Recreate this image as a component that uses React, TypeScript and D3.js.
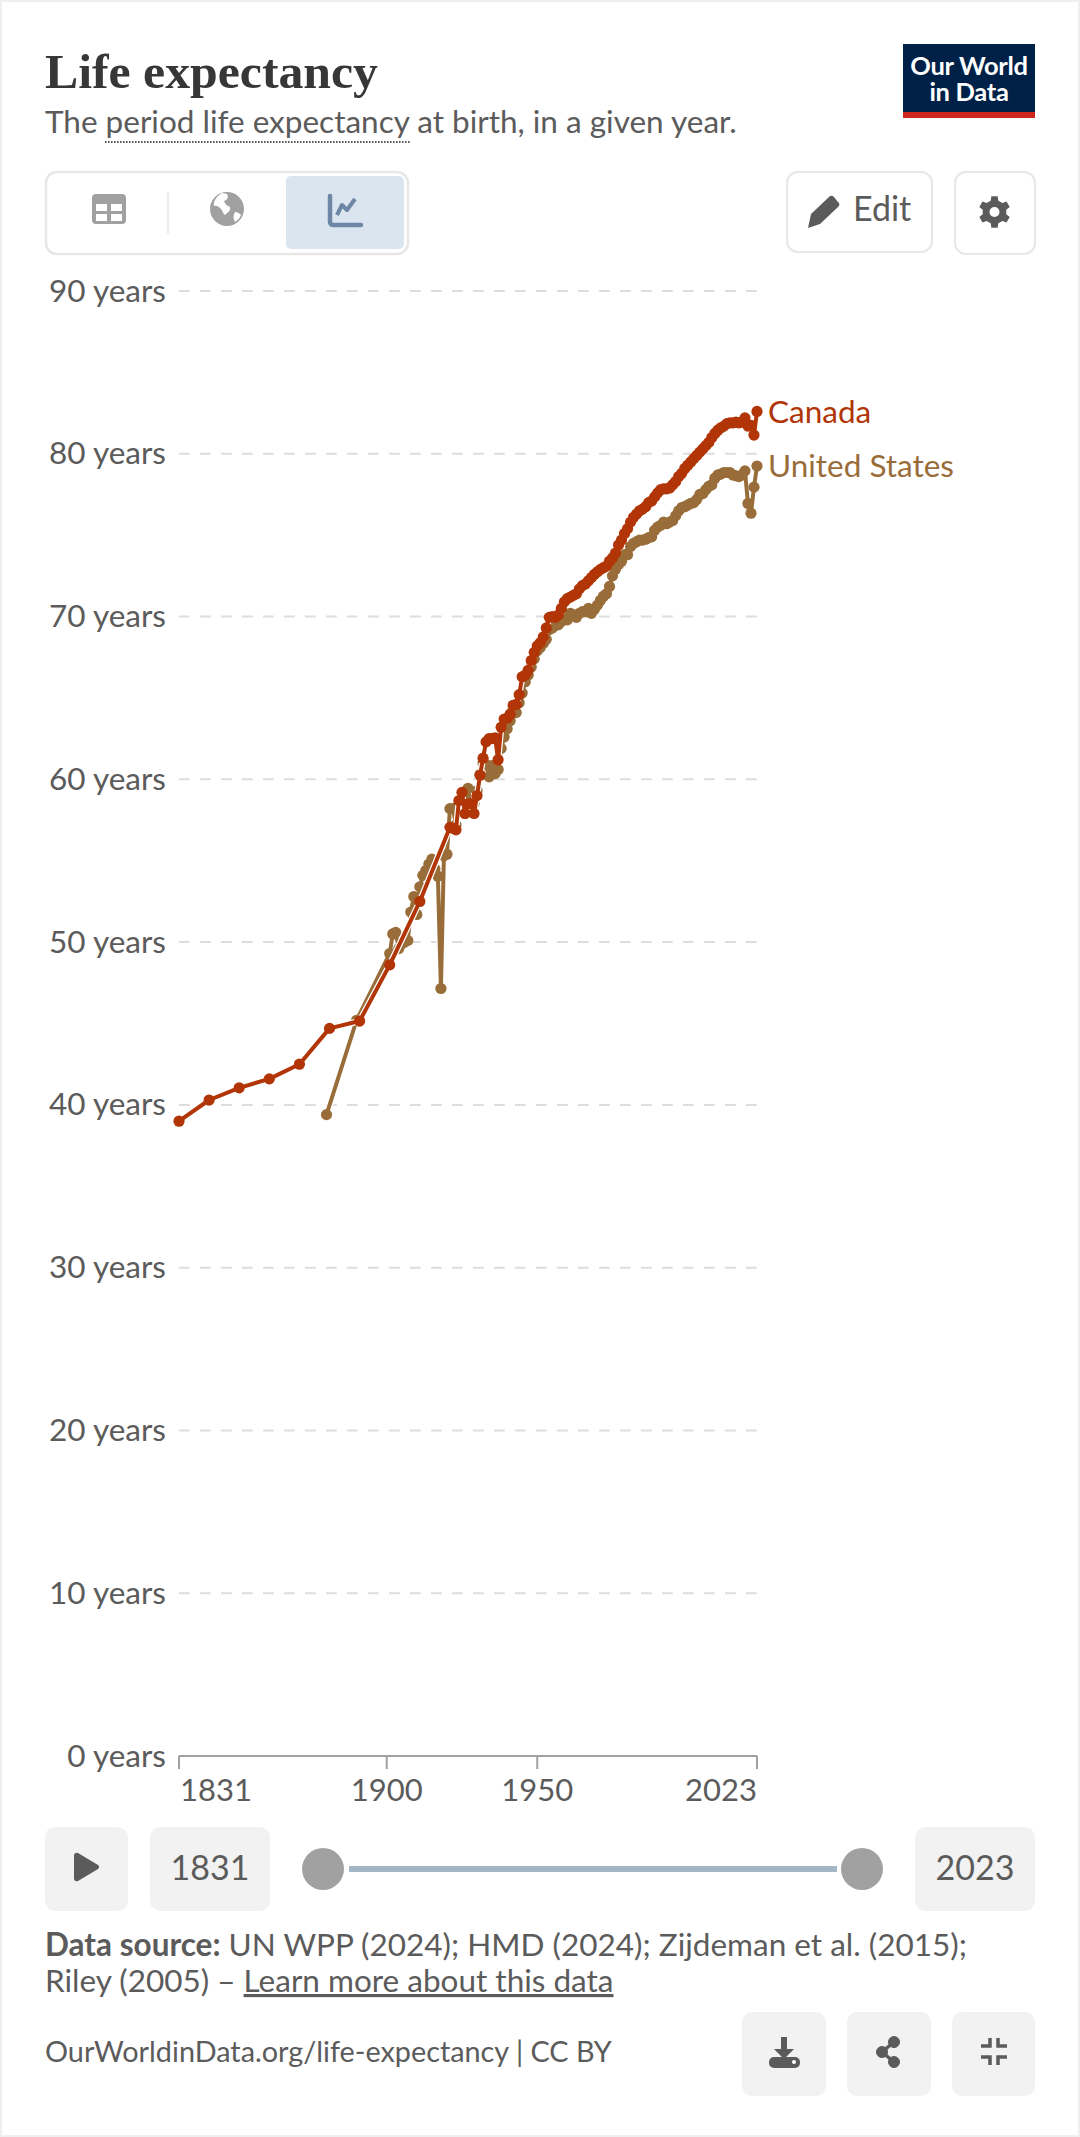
import React from "react";
import * as d3 from "d3";

const W = 1080;
const H = 2137;

const yTicks = [0, 10, 20, 30, 40, 50, 60, 70, 80, 90];
const xTicks = [1831, 1900, 1950, 2023];

const canadaEarlyYears = [1831, 1841, 1851, 1861, 1871, 1881, 1891, 1901, 1911];
const canadaEarlyValues = [39.0, 40.3, 41.05, 41.6, 42.5, 44.7, 45.15, 48.6, 52.5];
const canadaAnnualStart = 1921;
const canadaAnnualValues = [
  57.05, 57.0, 56.9, 58.7, 59.2, 57.9, 58.5, 58.5, 57.9, 59.0,
  60.25, 61.3, 62.3, 62.5, 62.5, 62.55, 61.2, 63.2, 63.7, 63.75,
  64.0, 64.55, 64.6, 65.2, 66.3, 66.4, 66.7, 67.3, 67.8, 68.2,
  68.4, 68.75, 69.3, 69.95, 70.0, 69.95, 70.1, 70.5, 70.9, 71.1,
  71.2, 71.3, 71.4, 71.7, 71.9, 72.0, 72.2, 72.4, 72.6, 72.75,
  72.9, 73.0, 73.1, 73.4, 73.6, 73.9, 74.4, 74.7, 75.1, 75.4,
  75.8, 76.1, 76.3, 76.5, 76.6, 76.75, 77.0, 77.1, 77.35, 77.6,
  77.8, 77.85, 77.85, 77.9, 78.1, 78.3, 78.6, 78.8, 79.1, 79.3,
  79.5, 79.7, 79.9, 80.1, 80.3, 80.5, 80.7, 81.0, 81.25, 81.45,
  81.6, 81.7, 81.85, 81.9, 81.9, 81.95, 81.9, 81.95, 82.2, 81.7,
  81.75, 81.15, 82.6,
];

const usEarlyYears = [1880, 1890];
const usEarlyValues = [39.4, 45.2];
const usAnnualStart = 1901;
const usAnnualValues = [
  49.3, 50.5, 50.6, 49.6, 49.9, 50.0, 50.1, 51.85, 52.8, 51.7,
  53.4, 54.1, 54.4, 54.8, 55.1, 54.5, 54.05, 47.15, 55.3, 55.4,
  58.2, 58.2, 57.2, 58.5, 58.6, 57.9, 59.45, 58.2, 58.5, 59.3,
  60.3, 61.0, 60.9, 60.15, 60.85, 60.35, 60.6, 61.9, 62.6, 63.1,
  63.6, 64.3, 64.1, 64.7, 65.3, 66.0, 66.4, 66.9, 67.4, 67.9,
  68.1, 68.35, 68.6, 69.2, 69.3, 69.45, 69.5, 69.7, 69.85, 69.8,
  70.2, 70.1, 69.95, 70.2, 70.3, 70.3, 70.5, 70.2, 70.45, 70.7,
  71.0, 71.25, 71.4, 71.85, 72.5, 72.9, 73.2, 73.4, 73.8, 73.8,
  74.3, 74.5, 74.6, 74.7, 74.7, 74.75, 74.85, 74.9, 75.3, 75.5,
  75.6, 75.8, 75.7, 75.8, 75.9, 76.2, 76.5, 76.7, 76.75, 76.85,
  76.95, 77.0, 77.2, 77.5, 77.55, 77.8, 78.0, 78.1, 78.5, 78.7,
  78.75, 78.85, 78.85, 78.85, 78.7, 78.65, 78.6, 78.7, 78.95, 76.95,
  76.35, 77.95, 79.25,
];

type Pt = [number, number];
const zipSeries = (yrs: number[], vals: number[], start: number, annual: number[]): Pt[] => [
  ...yrs.map((y, i) => [y, vals[i]] as Pt),
  ...annual.map((v, i) => [start + i, v] as Pt),
];
const canada = zipSeries(canadaEarlyYears, canadaEarlyValues, canadaAnnualStart, canadaAnnualValues);
const unitedStates = zipSeries(usEarlyYears, usEarlyValues, usAnnualStart, usAnnualValues);

const RED = "#B13507";
const BROWN = "#996D39";
const FONT = "Lato, sans-serif";
const TXT = "#5b5b5b";

const x = d3.scaleLinear().domain([1831, 2023]).range([179, 757]);
const y = d3.scaleLinear().domain([0, 90]).range([1756, 291]);
const lineGen = d3.line<Pt>().x((d) => x(d[0])).y((d) => y(d[1]));

function Series({ data, color }: { data: Pt[]; color: string }) {
  const d = lineGen(data) || "";
  return (
    <g>
      <path d={d} fill="none" stroke="#fff" strokeWidth={6.5} strokeLinejoin="round" />
      <path d={d} fill="none" stroke={color} strokeWidth={4} strokeLinejoin="round" strokeLinecap="round" />
      {data.map((p) => (
        <circle key={p[0]} cx={x(p[0])} cy={y(p[1])} r={5.6} fill={color} />
      ))}
    </g>
  );
}

const Btn = ({ x: bx, y: by, w, h }: { x: number; y: number; w: number; h: number }) => (
  <rect x={bx} y={by} width={w} height={h} rx={10} fill="#f2f2f2" />
);

const OutBtn = ({ x: bx, y: by, w, h }: { x: number; y: number; w: number; h: number }) => (
  <rect x={bx} y={by} width={w} height={h} rx={11} fill="#fff" stroke="#e7e7e7" strokeWidth={2} />
);

function gearPath(cx: number, cy: number, rOut: number, rIn: number, teeth: number) {
  const pts: Pt[] = [];
  for (let i = 0; i < teeth; i++) {
    const a = (i / teeth) * 2 * Math.PI - Math.PI / 2;
    const s = Math.PI / teeth;
    [[-0.62, rIn], [-0.38, rOut], [0.38, rOut], [0.62, rIn]].forEach(([o, r]) => {
      const t = a + o * s * 1.0;
      pts.push([cx + r * Math.cos(t), cy + r * Math.sin(t)]);
    });
  }
  return d3.line()(pts) + "Z";
}

export default function App() {
  return (
    <svg
      width={W}
      height={H}
      viewBox={`0 0 ${W} ${H}`}
      style={{ position: "absolute", left: 0, top: 0, display: "block", background: "#fff" }}
      fontFamily={FONT}
    >
      <rect x={1} y={1} width={W - 2} height={H - 2} fill="#fff" stroke="#efefef" strokeWidth={2} />

      {/* header */}
      <text x={45} y={88} fontFamily="'Liberation Serif', serif" fontWeight={700} fontSize={48} fill="#373737" textLength={333} lengthAdjust="spacingAndGlyphs">
        Life expectancy
      </text>
      <text x={45} y={133} fontSize={31.5} fill={TXT}>
        The period life expectancy at birth, in a given year.
      </text>
      <line x1={105} x2={410} y1={142} y2={142} stroke="#5b5b5b" strokeWidth={2} strokeDasharray="1.6,1.4" />

      {/* logo */}
      <rect x={903} y={44} width={132} height={74} fill="#002147" />
      <rect x={903} y={112} width={132} height={6} fill="#ce261e" />
      <text x={969} y={75} textAnchor="middle" fontSize={25.5} fontWeight={700} fill="#fff" letterSpacing={-0.3}>Our World</text>
      <text x={969} y={101} textAnchor="middle" fontSize={25.5} fontWeight={700} fill="#fff" letterSpacing={-0.3}>in Data</text>

      {/* tabs */}
      <rect x={46} y={172} width={362} height={82} rx={11} fill="#fff" stroke="#e7e7e7" strokeWidth={2.5} />
      <line x1={168} x2={168} y1={192} y2={234} stroke="#e7e7e7" strokeWidth={1.5} />
      <rect x={286} y={176} width={118} height={73} rx={5} fill="#dbe5f0" />
      <g fill="#a1a1a1">
        <path d="M96 194h26a4 4 0 0 1 4 4v22a4 4 0 0 1-4 4h-26a4 4 0 0 1-4-4v-22a4 4 0 0 1 4-4Z" />
      </g>
      <g fill="#fff">
        <rect x={96} y={204} width={11} height={7} />
        <rect x={111} y={204} width={11} height={7} />
        <rect x={96} y={214} width={11} height={7} />
        <rect x={111} y={214} width={11} height={7} />
      </g>
      <circle cx={227} cy={209} r={17} fill="#a1a1a1" />
      <path d="M222 193c-5 3-9 8-8 13 3-1 5 1 7 3s2 5 4 6c2-2 6-4 5-8-3-1-5-3-6-6 3-1 5-3 3-7ZM235 212c3 0 5 2 6 3-1 3-3 5-6 7-2-3-2-7 0-10Z" fill="#fff" />
      <path d="M330 196v26a3 3 0 0 0 3 3h28" fill="none" stroke="#6e87a6" strokeWidth={4.5} strokeLinecap="round" />
      <path d="M337 215l5-10 5 5 8-11" fill="none" stroke="#6e87a6" strokeWidth={4} strokeLinejoin="round" />

      <OutBtn x={787} y={172} w={145} h={80} />
      <path d="M808 228l3-14 18-17a3 3 0 0 1 5 0l4 5a3 3 0 0 1 0 5l-18 17Z" fill="#5b5b5b" />
      <text x={853} y={221} fontSize={34} fill={TXT}>Edit</text>
      <OutBtn x={955} y={172} w={80} h={82} />
      <path d={gearPath(994.5, 212, 16, 12, 6)} fill="#5b5b5b" />
      <circle cx={994.5} cy={212} r={5} fill="#fff" />

      {/* grid */}
      {yTicks.slice(1).map((t) => (
        <line key={t} x1={179} x2={757} y1={y(t)} y2={y(t)} stroke="#dddddd" strokeWidth={2} strokeDasharray="10.7,10.3" />
      ))}
      {yTicks.map((t) => (
        <text key={t} x={166} y={y(t) + 10.5} textAnchor="end" fontSize={31.5} fill={TXT}>
          {t} years
        </text>
      ))}

      {/* x axis */}
      <line x1={179} x2={757} y1={1756} y2={1756} stroke="#a1a1a1" strokeWidth={2} />
      {xTicks.map((t) => (
        <line key={t} x1={x(t)} x2={x(t)} y1={1756} y2={1769} stroke="#a1a1a1" strokeWidth={2} />
      ))}
      {xTicks.map((t, i) => (
        <text
          key={t}
          x={i === 0 ? 180 : i === xTicks.length - 1 ? 757 : x(t)}
          y={1801}
          textAnchor={i === 0 ? "start" : i === xTicks.length - 1 ? "end" : "middle"}
          fontSize={31}
          fill={TXT}
        >
          {t}
        </text>
      ))}

      <Series data={unitedStates} color={BROWN} />
      <Series data={canada} color={RED} />

      <text x={768} y={423} fontSize={31.5} fill={RED}>Canada</text>
      <text x={768} y={477} fontSize={31.5} fill={BROWN}>United States</text>

      {/* timeline */}
      <Btn x={45} y={1827} w={83} h={84} />
      <path d="M74 1855a3 3 0 0 1 4-2l20 12a2.5 2.5 0 0 1 0 4l-20 12a3 3 0 0 1-4-2Z" fill="#5b5b5b" />
      <Btn x={150} y={1827} w={120} h={84} />
      <text x={210} y={1880} textAnchor="middle" fontSize={34} fill={TXT}>1831</text>
      <rect x={349} y={1866} width={488} height={6} fill="#a4b6c6" />
      <circle cx={323} cy={1869} r={21} fill="#a1a1a1" />
      <circle cx={862} cy={1869} r={21} fill="#a1a1a1" />
      <Btn x={915} y={1827} w={120} h={84} />
      <text x={975} y={1880} textAnchor="middle" fontSize={34} fill={TXT}>2023</text>

      {/* footer */}
      <text x={45} y={1956} fontSize={31.5} fill={TXT}>
        <tspan fontWeight={700}>Data source:</tspan> UN WPP (2024); HMD (2024); Zijdeman et al. (2015);
      </text>
      <text x={45} y={1992} fontSize={31.5} fill={TXT}>
        Riley (2005) – <tspan textDecoration="underline">Learn more about this data</tspan>
      </text>
      <text x={45} y={2062} fontSize={28.8} fill={TXT}>OurWorldinData.org/life-expectancy | CC BY</text>

      <Btn x={742} y={2012} w={84} h={84} />
      <path d="M781 2037h6v12h7l-10 10-10-10h7Z" fill="#5b5b5b" />
      <rect x={769} y={2057} width={31} height={11} rx={5} fill="#5b5b5b" />
      <circle cx={794} cy={2062} r={2} fill="#fff" />

      <Btn x={847} y={2012} w={84} h={84} />
      <g fill="#5b5b5b" stroke="#5b5b5b">
        <circle cx={894} cy={2042} r={5.5} />
        <circle cx={882} cy={2052} r={5.5} />
        <circle cx={894} cy={2062} r={5.5} />
        <path d="M894 2042L882 2052L894 2062" fill="none" strokeWidth={3.5} />
      </g>

      <Btn x={952} y={2012} w={83} h={84} />
      <path d="M990 2038v8h-9M998 2038v8h9M990 2065v-8h-9M998 2065v-8h9" fill="none" stroke="#5b5b5b" strokeWidth={3.5} />
    </svg>
  );
}
